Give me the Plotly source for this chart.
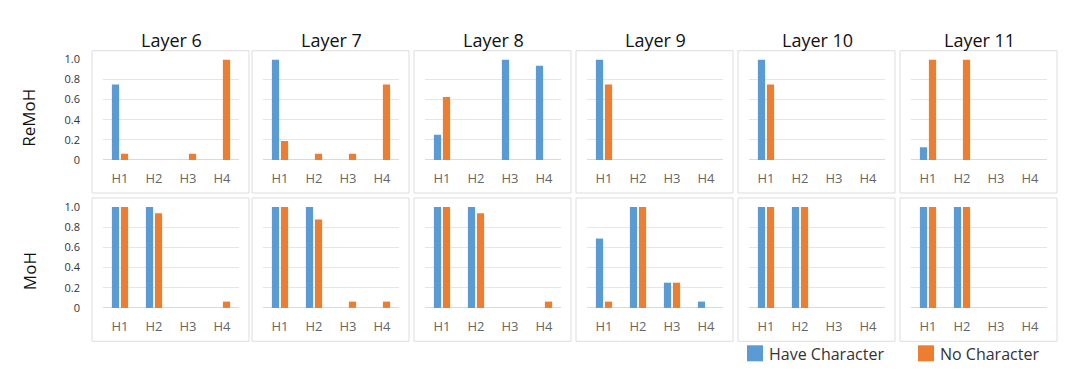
import plotly.graph_objects as go

# page has an 8px body margin
OX, OY = 8, 8
W, H = 1064, 374
# the photographed page appears vertically compressed; compensate
YS, YO = 0.958, 7.7

heads = ["H1", "H2", "H3", "H4"]
layers = ["Layer 6", "Layer 7", "Layer 8", "Layer 9", "Layer 10", "Layer 11"]
rows = ["ReMoH", "MoH"]
series_names = ["Have Character", "No Character"]
y_ticks = [0, 0.2, 0.4, 0.6, 0.8, 1.0]
y_tick_text = ["0", "0.2", "0.4", "0.6", "0.8", "1.0"]

# ReMoH
remoh_have = [
    [0.75, 0, 0, 0],
    [1.0, 0, 0, 0],
    [0.25, 0, 1.0, 0.9375],
    [1.0, 0, 0, 0],
    [1.0, 0, 0, 0],
    [0.125, 0, 0, 0],
]
remoh_no = [
    [0.0625, 0, 0.0625, 1.0],
    [0.1875, 0.0625, 0.0625, 0.75],
    [0.625, 0, 0, 0],
    [0.75, 0, 0, 0],
    [0.75, 0, 0, 0],
    [1.0, 1.0, 0, 0],
]
# MoH
moh_have = [
    [1.0, 1.0, 0, 0],
    [1.0, 1.0, 0, 0],
    [1.0, 1.0, 0, 0],
    [0.6875, 1.0, 0.25, 0.0625],
    [1.0, 1.0, 0, 0],
    [1.0, 1.0, 0, 0],
]
moh_no = [
    [1.0, 0.9375, 0, 0.0625],
    [1.0, 0.875, 0.0625, 0.0625],
    [1.0, 0.9375, 0, 0.0625],
    [0.0625, 1.0, 0.25, 0],
    [1.0, 1.0, 0, 0],
    [1.0, 1.0, 0, 0],
]

BLUE = "#5B9BD5"
ORANGE = "#ED7D31"
GRID = "#E6E6E6"
BOX = "#DDDDDD"
FONT = "Open Sans"

col_left = [103, 263, 425, 587, 749, 911]
plot_w = 136
row_top = [58.7, 206]
row_bot = [159, 306.7]
box_y = [(50, 192), (197, 340)]

def px(x):
    return (x - OX) / W

def py(t):
    y = (t - YO) / YS
    return 1 - (y - OY) / H

fig = go.Figure()
layout = {}
shapes = []
annotations = []

data_rows = [(remoh_have, remoh_no), (moh_have, moh_no)]
idx = 0
for r in range(2):
    have_data, no_data = data_rows[r]
    for c in range(6):
        idx += 1
        xa = "x" if idx == 1 else f"x{idx}"
        ya = "y" if idx == 1 else f"y{idx}"
        xkey = "xaxis" if idx == 1 else f"xaxis{idx}"
        ykey = "yaxis" if idx == 1 else f"yaxis{idx}"
        for vals, name, color in [(have_data[c], series_names[0], BLUE),
                                  (no_data[c], series_names[1], ORANGE)]:
            fig.add_trace(go.Bar(
                x=heads, y=vals, name=name, marker_color=color,
                marker_line_width=0, showlegend=False,
                xaxis=xa, yaxis=ya,
            ))
        layout[xkey] = dict(
            domain=[px(col_left[c]), px(col_left[c] + plot_w)],
            anchor=ya, showgrid=False, zeroline=False, showline=False,
            ticks="", tickfont=dict(family=FONT, size=13, color="#666666"),
            ticklabelstandoff=9, fixedrange=True,
        )
        layout[ykey] = dict(
            domain=[py(row_bot[r]), py(row_top[r])],
            anchor=xa, range=[0, 1.0], tickvals=y_ticks, ticktext=y_tick_text,
            showgrid=True, gridcolor=GRID, gridwidth=1,
            zeroline=True, zerolinecolor="#DADADA", zerolinewidth=1,
            showline=False, showticklabels=(c == 0),
            tickfont=dict(family=FONT, size=11, color="#333333"),
            ticklabelstandoff=22, fixedrange=True,
        )
        bx0, bx1 = col_left[c] - 11, col_left[c] + 146
        by0, by1 = box_y[r]
        shapes.append(dict(type="rect", xref="paper", yref="paper",
                           x0=px(bx0), x1=px(bx1), y0=py(by1), y1=py(by0),
                           line=dict(color=BOX, width=1), layer="below"))
        if r == 0:
            annotations.append(dict(
                text=layers[c], xref="paper", yref="paper",
                x=px(col_left[c] + plot_w / 2), y=py(39),
                xanchor="center", yanchor="middle", showarrow=False,
                font=dict(family=FONT, size=18, color="#111111")))

# row labels
for r, yc in zip(range(2), [117, 270]):
    annotations.append(dict(
        text=rows[r], xref="paper", yref="paper", x=px(29), y=py(yc),
        xanchor="center", yanchor="middle", textangle=-90, showarrow=False,
        font=dict(family=FONT, size=17, color="#111111")))

# legend
for name, color, x0 in [(series_names[0], BLUE, 747), (series_names[1], ORANGE, 918)]:
    shapes.append(dict(type="rect", xref="paper", yref="paper",
                       x0=px(x0), x1=px(x0 + 16), y0=py(360), y1=py(344),
                       line=dict(width=0), fillcolor=color))
    annotations.append(dict(
        text=name, xref="paper", yref="paper", x=px(x0 + 20), y=py(352.5),
        xanchor="left", yanchor="middle", showarrow=False,
        font=dict(family=FONT, size=16, color="#333333")))

fig.update_layout(
    width=W, height=H, margin=dict(l=0, r=0, t=0, b=0),
    paper_bgcolor="white", plot_bgcolor="white",
    barmode="group", bargap=0.47, bargroupgap=0.2,
    shapes=shapes, annotations=annotations, showlegend=False,
    **layout,
)

fig.write_html("out.html")
